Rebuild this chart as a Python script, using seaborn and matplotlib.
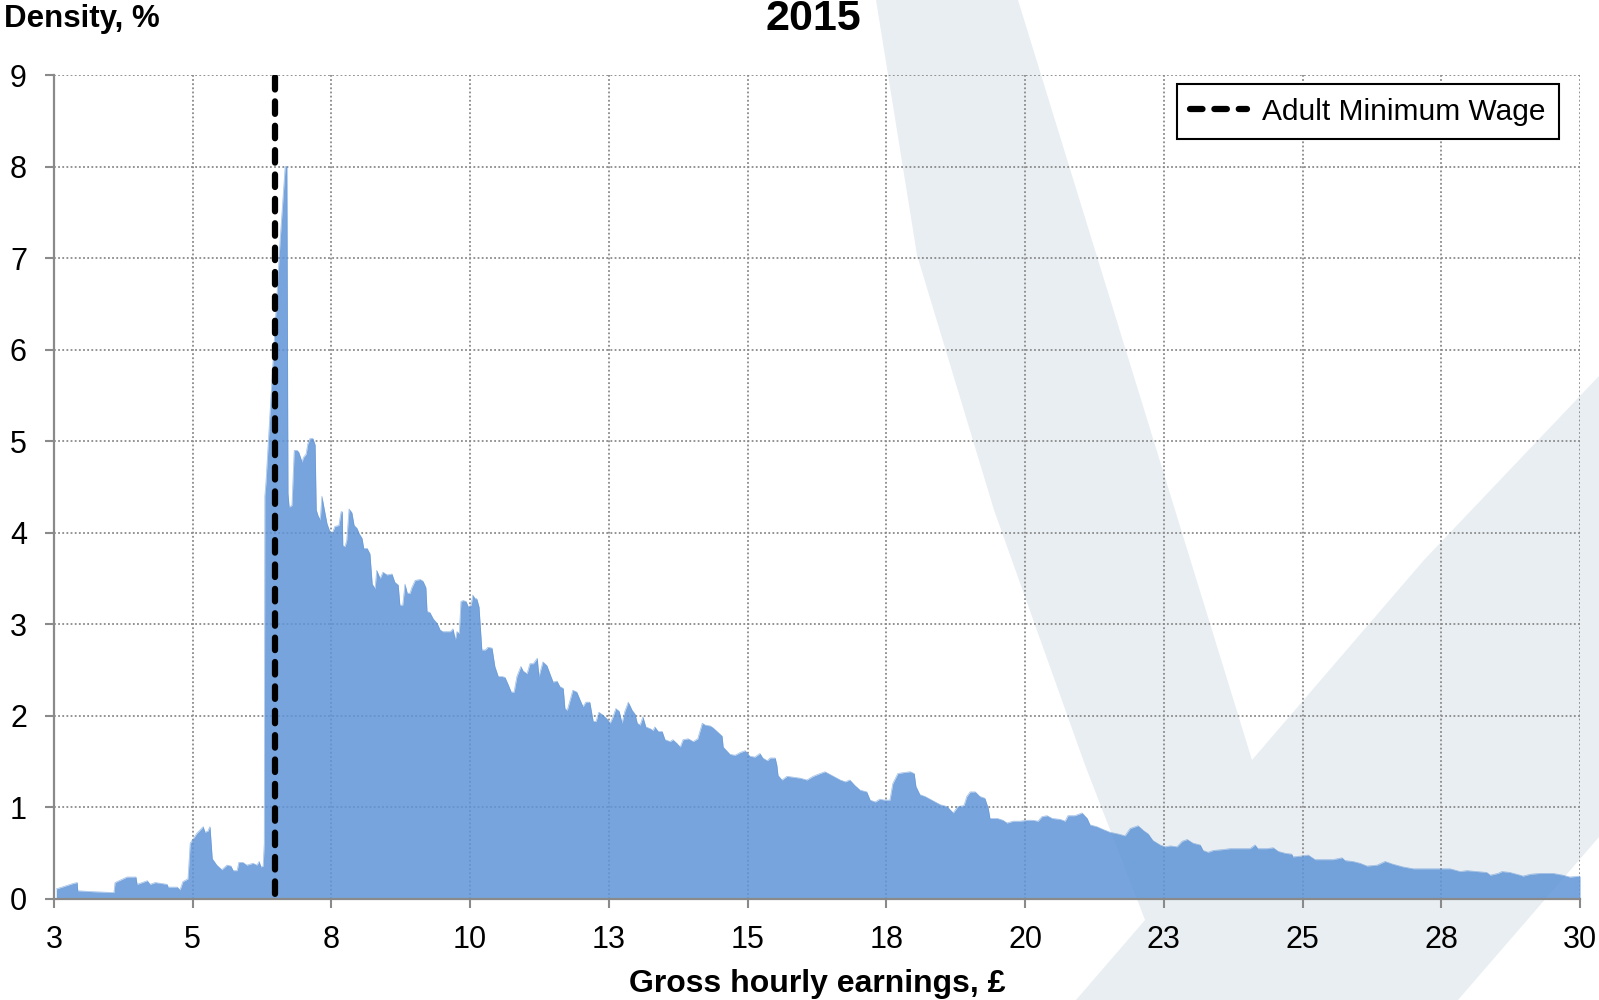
import numpy as np
import pandas as pd
import matplotlib
matplotlib.use("Agg")
import matplotlib.pyplot as plt
from matplotlib.patches import Polygon
import seaborn as sns

# hourly wage (GBP) and density (%)
wage = [3.04, 3.34, 3.41, 3.42, 3.69, 4.06, 4.08, 4.29, 4.45, 4.47,
        4.65, 4.70, 4.79, 5.00, 5.02, 5.18, 5.23, 5.28, 5.37, 5.41,
        5.53, 5.64, 5.67, 5.72, 5.76, 5.80, 5.88, 5.97, 6.06, 6.13,
        6.17, 6.24, 6.27, 6.34, 6.41, 6.52, 6.59, 6.63, 6.66, 6.70,
        6.72, 6.73, 6.75, 7.00, 7.09, 7.12, 7.14, 7.16, 7.21, 7.25,
        7.30, 7.33, 7.39, 7.41, 7.46, 7.49, 7.53, 7.58, 7.62, 7.64,
        7.67, 7.71, 7.74, 7.76, 7.79, 7.83, 7.87, 7.92, 7.97, 8.04,
        8.08, 8.10, 8.11, 8.15, 8.18, 8.22, 8.27, 8.31, 8.36, 8.40,
        8.45, 8.48, 8.54, 8.59, 8.63, 8.68, 8.71, 8.77, 8.82, 8.89,
        8.98, 9.03, 9.09, 9.12, 9.17, 9.21, 9.25, 9.30, 9.33, 9.39,
        9.48, 9.53, 9.58, 9.60, 9.65, 9.71, 9.78, 9.83, 9.88, 9.95,
        10.01, 10.06, 10.10, 10.13, 10.17, 10.20, 10.24, 10.29, 10.33, 10.38,
        10.41, 10.45, 10.48, 10.52, 10.57, 10.63, 10.68, 10.75, 10.80, 10.86,
        10.93, 10.98, 11.03, 11.09, 11.14, 11.19, 11.26, 11.30, 11.37, 11.42,
        11.48, 11.55, 11.58, 11.65, 11.72, 11.78, 11.83, 11.90, 11.95, 12.01,
        12.04, 12.08, 12.13, 12.18, 12.25, 12.31, 12.36, 12.41, 12.48, 12.54,
        12.59, 12.64, 12.71, 12.78, 12.84, 12.89, 12.94, 13.00, 13.05, 13.10,
        13.16, 13.23, 13.28, 13.32, 13.37, 13.42, 13.47, 13.55, 13.60, 13.63,
        13.69, 13.76, 13.81, 13.90, 13.95, 14.02, 14.08, 14.13, 14.22, 14.31,
        14.39, 14.47, 14.52, 14.61, 14.66, 14.73, 14.82, 14.84, 14.96, 15.05,
        15.14, 15.23, 15.31, 15.40, 15.49, 15.54, 15.62, 15.67, 15.76, 15.79,
        15.81, 15.88, 15.97, 16.08, 16.20, 16.32, 16.43, 16.55, 16.64, 16.73,
        16.82, 16.91, 17.00, 17.08, 17.17, 17.26, 17.38, 17.44, 17.53, 17.61,
        17.70, 17.79, 17.84, 17.93, 18.02, 18.15, 18.22, 18.25, 18.32, 18.41,
        18.50, 18.59, 18.68, 18.80, 18.91, 18.99, 19.10, 19.15, 19.21, 19.30,
        19.38, 19.47, 19.53, 19.56, 19.69, 19.79, 19.86, 19.97, 20.09, 20.22,
        20.32, 20.41, 20.48, 20.57, 20.66, 20.80, 20.89, 20.94, 21.06, 21.19,
        21.28, 21.33, 21.45, 21.56, 21.68, 21.83, 21.95, 22.04, 22.18, 22.27,
        22.36, 22.44, 22.57, 22.66, 22.75, 22.87, 22.96, 23.05, 23.15, 23.28,
        23.33, 23.42, 23.51, 23.68, 23.81, 23.98, 24.16, 24.25, 24.30, 24.46,
        24.57, 24.66, 24.78, 24.90, 24.92, 25.08, 25.19, 25.31, 25.45, 25.63,
        25.79, 25.84, 25.98, 26.11, 26.23, 26.41, 26.55, 26.69, 26.87, 27.05,
        27.22, 27.40, 27.52, 27.70, 27.88, 28.00, 28.18, 28.35, 28.41, 28.55,
        28.62, 28.76, 28.94, 28.99, 29.12, 29.29, 29.42, 29.52, 29.70, 29.82,
        30.00]

density = [0.11, 0.17, 0.18, 0.09, 0.08, 0.07, 0.18, 0.24, 0.24, 0.16,
           0.20, 0.16, 0.18, 0.16, 0.13, 0.13, 0.10, 0.19, 0.22, 0.61,
           0.72, 0.79, 0.73, 0.74, 0.79, 0.44, 0.37, 0.32, 0.37, 0.36,
           0.31, 0.31, 0.40, 0.40, 0.37, 0.39, 0.37, 0.41, 0.35, 0.36,
           0.61, 4.40, 4.55, 7.19, 8.00, 8.00, 4.43, 4.28, 4.30, 4.90,
           4.90, 4.88, 4.77, 4.82, 4.86, 4.97, 5.03, 5.03, 4.96, 4.25,
           4.19, 4.14, 4.40, 4.33, 4.23, 4.10, 4.03, 3.99, 4.07, 4.08,
           4.23, 4.23, 3.86, 3.85, 3.92, 4.26, 4.22, 4.08, 4.05, 3.99,
           3.94, 3.83, 3.83, 3.77, 3.44, 3.39, 3.59, 3.50, 3.57, 3.54,
           3.55, 3.46, 3.43, 3.21, 3.21, 3.44, 3.34, 3.34, 3.40, 3.48,
           3.49, 3.47, 3.40, 3.14, 3.13, 3.06, 3.01, 2.94, 2.92, 2.92,
           2.92, 2.95, 2.83, 2.92, 2.90, 3.25, 3.26, 3.25, 3.19, 3.21,
           3.32, 3.28, 3.28, 3.19, 2.72, 2.72, 2.75, 2.74, 2.54, 2.43,
           2.43, 2.42, 2.35, 2.26, 2.26, 2.43, 2.54, 2.49, 2.46, 2.57,
           2.57, 2.63, 2.43, 2.59, 2.55, 2.45, 2.37, 2.38, 2.32, 2.30,
           2.08, 2.06, 2.17, 2.28, 2.26, 2.17, 2.10, 2.15, 2.15, 1.94,
           1.94, 2.04, 2.01, 1.97, 1.92, 1.99, 2.08, 2.05, 1.92, 2.05,
           2.15, 2.06, 2.02, 1.92, 1.90, 1.99, 1.88, 1.86, 1.84, 1.88,
           1.83, 1.83, 1.74, 1.72, 1.74, 1.70, 1.66, 1.74, 1.75, 1.72,
           1.75, 1.92, 1.90, 1.89, 1.87, 1.83, 1.78, 1.66, 1.58, 1.57,
           1.60, 1.62, 1.56, 1.55, 1.59, 1.54, 1.51, 1.54, 1.54, 1.46,
           1.35, 1.30, 1.34, 1.33, 1.32, 1.30, 1.34, 1.37, 1.39, 1.36,
           1.33, 1.30, 1.28, 1.30, 1.24, 1.19, 1.17, 1.08, 1.06, 1.09,
           1.08, 1.08, 1.26, 1.37, 1.38, 1.39, 1.37, 1.23, 1.14, 1.12,
           1.09, 1.06, 1.03, 1.01, 0.94, 1.01, 1.02, 1.12, 1.17, 1.17,
           1.12, 1.10, 0.99, 0.88, 0.88, 0.86, 0.83, 0.85, 0.85, 0.86,
           0.86, 0.85, 0.90, 0.91, 0.88, 0.87, 0.85, 0.91, 0.91, 0.94,
           0.88, 0.81, 0.79, 0.76, 0.73, 0.71, 0.69, 0.77, 0.80, 0.75,
           0.71, 0.64, 0.59, 0.57, 0.58, 0.57, 0.63, 0.65, 0.61, 0.59,
           0.53, 0.51, 0.53, 0.54, 0.55, 0.55, 0.55, 0.59, 0.55, 0.55,
           0.56, 0.52, 0.50, 0.49, 0.46, 0.47, 0.48, 0.43, 0.43, 0.43,
           0.45, 0.42, 0.41, 0.39, 0.36, 0.37, 0.41, 0.38, 0.35, 0.33,
           0.33, 0.33, 0.33, 0.33, 0.30, 0.31, 0.30, 0.29, 0.26, 0.28,
           0.30, 0.29, 0.26, 0.25, 0.27, 0.28, 0.28, 0.28, 0.26, 0.24,
           0.25]

min_wage = 6.91
x_tick_labels = ['3', '5', '8', '10', '13', '15', '18', '20', '23', '25', '28', '30']
y_ticks = [0, 1, 2, 3, 4, 5, 6, 7, 8, 9]

# background watermark outline, figure pixels (y measured from top)
wm_x = [876, 917, 994, 1085, 1140, 1145, 1076, 1458, 1599, 1599, 1424, 1252, 1018]
wm_y = [0, 255, 510, 765, 907, 920, 1000, 1000, 837, 376, 560, 760, 0]

assert len(wage) == len(density)
df = pd.DataFrame({'wage': wage, 'density': density})

sns.set_theme(style='white')
plt.rcParams['font.family'] = ['Liberation Sans', 'DejaVu Sans']
plt.rcParams['text.color'] = 'black'
plt.rcParams['axes.labelcolor'] = 'black'

fig = plt.figure(figsize=(15.99, 10), dpi=100)

# watermark layer
bg = fig.add_axes([0, 0, 1, 1], zorder=0)
bg.set_xlim(0, 1599)
bg.set_ylim(1000, 0)
bg.axis('off')
bg.add_patch(Polygon(list(zip(wm_x, wm_y)), closed=True, color='#e9eef2', lw=0))

ax = fig.add_axes([54 / 1599, 0.101, 1526 / 1599, 0.824], zorder=1)
ax.set_facecolor('none')

fill_col = '#5f94d6'
ax.fill_between(df['wage'], df['density'], color=fill_col, alpha=0.85, lw=0, zorder=2)
sns.lineplot(data=df, x='wage', y='density', ax=ax, color=fill_col, alpha=0.6, lw=0.5, zorder=2)

# drawn top-down so the dash pattern starts at the top like the original
ax.axvline(min_wage, ymin=0.997, ymax=0, color='black', lw=4.5,
           dashes=(2.0, 1.9), dash_capstyle='round', zorder=4,
           label='Adult Minimum Wage')

ax.set_xlim(3, 30)
ax.set_ylim(0, 9)
ax.set_xticks(np.linspace(3, 30, 12))
ax.set_xticklabels(x_tick_labels)
ax.set_yticks(y_ticks)
ax.set_xlabel('')
ax.set_ylabel('')

ax.grid(True, color='#8a8a8a', lw=1.3, linestyle=(0, (1, 1.3)), zorder=1)
ax.set_axisbelow(True)

for side in ['top', 'right']:
    ax.spines[side].set_visible(False)
for side in ['left', 'bottom']:
    ax.spines[side].set_color('#8a8a8a')
    ax.spines[side].set_linewidth(1.6)
    ax.spines[side].set_zorder(5)

ax.tick_params(axis='both', which='major', labelsize=22, labelcolor='black',
               color='#8a8a8a', length=6.5, width=1.5, direction='out')
ax.tick_params(axis='x', pad=12)
ax.tick_params(axis='y', pad=13)
ax.xaxis.set_ticks_position('bottom')
ax.yaxis.set_ticks_position('left')

leg = ax.legend(loc='upper right', bbox_to_anchor=(0.9862, 0.989), borderaxespad=0,
                fontsize=21.5, frameon=True, fancybox=False, framealpha=1,
                handlelength=1.9, handletextpad=0.5, borderpad=0.45)
leg.get_frame().set_edgecolor('black')
leg.get_frame().set_linewidth(1.5)
for t in leg.get_texts():
    t.set_color('black')

fig.text(813 / 1599, 1 - 19 / 1000, '2015', ha='center', va='center',
         fontsize=31, fontweight='bold', color='black')
fig.text(4 / 1599, 1 - 27 / 1000, 'Density, %', ha='left', va='baseline',
         fontsize=22.5, fontweight='bold', color='black')
fig.text(817 / 1599, 1 - 992 / 1000, 'Gross hourly earnings, £', ha='center',
         va='baseline', fontsize=23, fontweight='bold', color='black')

fig.savefig('out.png', dpi=100)
